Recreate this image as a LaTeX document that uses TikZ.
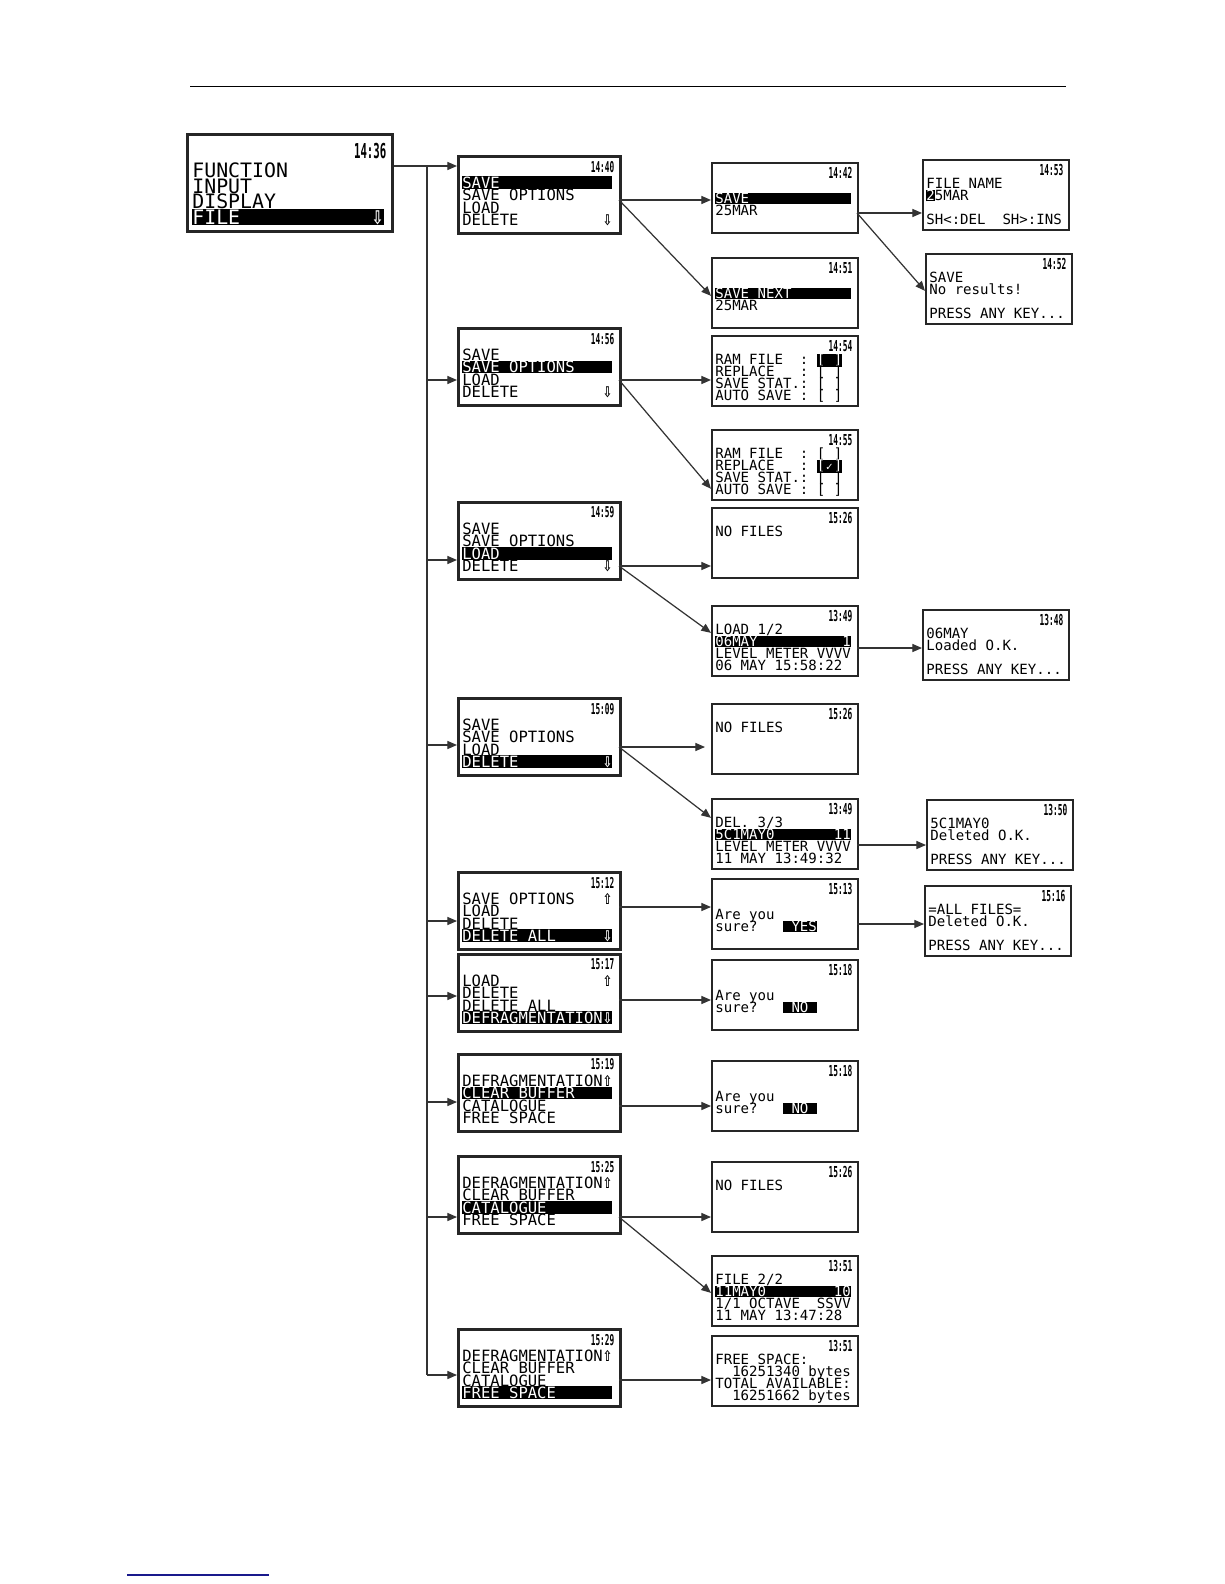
\documentclass[tikz,border=0pt]{standalone}
\usepackage{fontspec}
\usepackage{graphicx}
\usetikzlibrary{arrows.meta,calc}
\newfontfamily\lcd{DejaVu Sans Mono}
\newfontfamily\symf{DejaVu Sans}
\definecolor{footblue}{RGB}{25,25,140}
\newlength\rowwd
\newcommand\lcdstrut{\vrule width0pt height.78em depth.04em\relax}
\newcommand\lcdsize[2]{\lcd\fontsize{#1}{#2}\selectfont\setlength\rowwd{9.632em}\lineskiplimit=-10pt\relax}
\newcommand\topfnt{\lcdsize{11.3pt}{8.98pt}}
\newcommand\menufnt{\lcdsize{8.85pt}{7.03pt}}
\newcommand\dispfnt{\lcdsize{8pt}{6.69pt}}
\newcommand\lrow[1]{\hbox to\rowwd{\lcdstrut#1\hss}}
\newcommand\hrow[1]{\hbox{\setlength\fboxsep{0pt}\colorbox{black}{\hbox to\rowwd{\lcdstrut\color{white}#1\hss}}}}
\newcommand\hl[1]{{\setlength\fboxsep{0pt}\colorbox{black}{\lcdstrut\color{white}#1}}}
\newcommand\rt{\hskip0pt plus1filll\relax}
\newcommand\darr{\makebox[.602em]{\symf\bfseries\scalebox{.72}[.95]{⇩}}}
\newcommand\uarr{\makebox[.602em]{\symf\bfseries\scalebox{.72}[.95]{⇧}}}
\newcommand\chk{\makebox[.602em]{\symf\scalebox{.7}{✓}}}
% one LCD screen: style prefix, name, top left corner, clock, rows
\newcommand\screen[5]{%
  \node at (#3) (#2) [#1box] {};
  \node at (#2.north east) (#2t) [#1time] {\scalebox{.52}[1]{#4}};
  \node at (#2.north west) (#2r) [#1rows] {\vbox{#5}};
}

\begin{document}
\begin{tikzpicture}[
	x=0.02cm, y=-0.02cm,
	topbox/.style={ draw=black!85, line width=1.5pt, anchor=north west, inner sep=0pt, minimum width=4.1cm, minimum height=1.94cm },
	toptime/.style={ anchor=east, inner sep=0pt, xshift=-0.14cm, yshift=-0.36cm, font=\lcd\bfseries\fontsize{11.7pt}{11.7pt}\selectfont },
	toprows/.style={ anchor=north west, inner sep=0pt, xshift=0.12cm, yshift=-0.568cm, font=\topfnt },
	menubox/.style={ draw=black!85, line width=1.5pt, anchor=north west, inner sep=0pt, minimum width=3.24cm, minimum height=1.54cm },
	menutime/.style={ anchor=east, inner sep=0pt, xshift=-0.14cm, yshift=-0.232cm, font=\lcd\bfseries\fontsize{8.5pt}{8.5pt}\selectfont },
	menurows/.style={ anchor=north west, inner sep=0pt, xshift=0.1cm, yshift=-0.42cm, font=\menufnt },
	dispbox/.style={ draw=black!85, line width=1pt, anchor=north west, inner sep=0pt, minimum width=2.92cm, minimum height=1.4cm },
	disptime/.style={ anchor=east, inner sep=0pt, xshift=-0.12cm, yshift=-0.22cm, font=\lcd\bfseries\fontsize{8.6pt}{8.6pt}\selectfont },
	disprows/.style={ anchor=north west, inner sep=0pt, xshift=0.08cm, yshift=-0.373cm, font=\dispfnt },
	link/.style={ draw=black!80, line width=0.7pt },
	arr/.style={ draw=black!80, line width=0.7pt, -{Triangle[length=5.5pt,width=4.6pt]} }
]
\useasboundingbox (0,0) rectangle (1224,1584);

\draw[line width=0.5pt] (190,86) -- (1066,86);
\draw[line width=1pt,footblue] (127,1575) -- (269,1575);

\screen{top}{fn}{186,133}{14:36}{\lrow{FUNCTION}\lrow{INPUT}\lrow{DISPLAY}\hrow{FILE\rt\darr}}

% menu column
\screen{menu}{msave}{457,155}{14:40}{\hrow{SAVE}\lrow{SAVE OPTIONS}\lrow{LOAD}\lrow{DELETE\rt\darr}}
\screen{menu}{mopt}{457,327}{14:56}{\lrow{SAVE}\hrow{SAVE OPTIONS}\lrow{LOAD}\lrow{DELETE\rt\darr}}
\screen{menu}{mload}{457,501}{14:59}{\lrow{SAVE}\lrow{SAVE OPTIONS}\hrow{LOAD}\lrow{DELETE\rt\darr}}
\screen{menu}{mdel}{457,697}{15:09}{\lrow{SAVE}\lrow{SAVE OPTIONS}\lrow{LOAD}\hrow{DELETE\rt\darr}}
\screen{menu}{mdall}{457,871}{15:12}{\lrow{SAVE OPTIONS\rt\uarr}\lrow{LOAD}\lrow{DELETE}\hrow{DELETE ALL\rt\darr}}
\screen{menu}{mdefr}{457,953}{15:17}{\lrow{LOAD\rt\uarr}\lrow{DELETE}\lrow{DELETE ALL}\hrow{DEFRAGMENTATION\darr}}
\screen{menu}{mclr}{457,1053}{15:19}{\lrow{DEFRAGMENTATION\uarr}\hrow{CLEAR BUFFER}\lrow{CATALOGUE}\lrow{FREE SPACE}}
\screen{menu}{mcat}{457,1155}{15:25}{\lrow{DEFRAGMENTATION\uarr}\lrow{CLEAR BUFFER}\hrow{CATALOGUE}\lrow{FREE SPACE}}
\screen{menu}{mfree}{457,1328}{15:29}{\lrow{DEFRAGMENTATION\uarr}\lrow{CLEAR BUFFER}\lrow{CATALOGUE}\hrow{FREE SPACE}}

% result screens
\screen{disp}{ssave}{711,162}{14:42}{\lrow{}\hrow{SAVE}\lrow{25MAR}}
\screen{disp}{snext}{711,257}{14:51}{\lrow{}\hrow{SAVE NEXT}\lrow{25MAR}}
\screen{disp}{sram}{711,335}{14:54}{\lrow{RAM FILE~~:~\hl{[~]}}\lrow{REPLACE~~~:~[~]}\lrow{SAVE STAT.:~[~]}\lrow{AUTO SAVE~:~[~]}}
\screen{disp}{srepl}{711,429}{14:55}{\lrow{RAM FILE~~:~[~]}\lrow{REPLACE~~~:~\hl{[\chk]}}\lrow{SAVE STAT.:~[~]}\lrow{AUTO SAVE~:~[~]}}
\screen{disp}{lnone}{711,507}{15:26}{\lrow{NO FILES}}
\screen{disp}{lfile}{711,605}{13:49}{\lrow{LOAD 1/2}\hrow{06MAY\rt 1}\lrow{LEVEL METER VVVV}\lrow{06 MAY 15:58:22}}
\screen{disp}{dnone}{711,703}{15:26}{\lrow{NO FILES}}
\screen{disp}{dfile}{711,798}{13:49}{\lrow{DEL. 3/3}\hrow{5C1MAY0\rt 11}\lrow{LEVEL METER VVVV}\lrow{11 MAY 13:49:32}}
\screen{disp}{dallq}{711,878}{15:13}{\lrow{}\lrow{Are you}\lrow{sure?~~~\hl{~YES}}}
\screen{disp}{defq}{711,959}{15:18}{\lrow{}\lrow{Are you}\lrow{sure?~~~\hl{~NO~}}}
\screen{disp}{clrq}{711,1060}{15:18}{\lrow{}\lrow{Are you}\lrow{sure?~~~\hl{~NO~}}}
\screen{disp}{cnone}{711,1161}{15:26}{\lrow{NO FILES}}
\screen{disp}{cfile}{711,1255}{13:51}{\lrow{FILE 2/2}\hrow{11MAY0\rt 10}\lrow{1/1 OCTAVE~~SSVV}\lrow{11 MAY 13:47:28}}
\screen{disp}{fspace}{711,1335}{13:51}{\lrow{FREE SPACE:}\lrow{~~16251340 bytes}\lrow{TOTAL AVAILABLE:}\lrow{~~16251662 bytes}}

\screen{disp}{fname}{922,159}{14:53}{\lrow{FILE NAME}\lrow{\hl{2}5MAR}\lrow{}\lrow{SH<:DEL~~SH>:INS}}
\screen{disp}{nores}{925,253}{14:52}{\lrow{SAVE}\lrow{No results!}\lrow{}\lrow{PRESS ANY KEY...}}
\screen{disp}{lok}{922,609}{13:48}{\lrow{06MAY}\lrow{Loaded O.K.}\lrow{}\lrow{PRESS ANY KEY...}}
\screen{disp}{dok}{926,799}{13:50}{\lrow{5C1MAY0}\lrow{Deleted O.K.}\lrow{}\lrow{PRESS ANY KEY...}}
\screen{disp}{dallok}{924,885}{15:16}{\lrow{=ALL FILES=}\lrow{Deleted O.K.}\lrow{}\lrow{PRESS ANY KEY...}}

% trunk from the FILE menu
\coordinate (tk1) at (427,166);
\coordinate (tk2) at (427,380);
\coordinate (tk3) at (427,560);
\coordinate (tk4) at (427,745);
\coordinate (tk5) at (427,921);
\coordinate (tk6) at (427,996);
\coordinate (tk7) at (427,1102);
\coordinate (tk8) at (427,1217);
\coordinate (tk9) at (427,1375);
\draw[arr] (tk1 -| fn.east) -- (tk1 -| msave.west);
\draw[link] (tk1) -- (tk9);
\draw[arr] (tk2) -- (tk2 -| mopt.west);
\draw[arr] (tk3) -- (tk3 -| mload.west);
\draw[arr] (tk4) -- (tk4 -| mdel.west);
\draw[arr] (tk5) -- (tk5 -| mdall.west);
\draw[arr] (tk6) -- (tk6 -| mdefr.west);
\draw[arr] (tk7) -- (tk7 -| mclr.west);
\draw[arr] (tk8) -- (tk8 -| mcat.west);
\draw[arr] (tk9) -- (tk9 -| mfree.west);

% menu to result
\coordinate (osave) at (619,200);
\coordinate (oopt) at (619,380);
\coordinate (oload) at (619,566);
\coordinate (odel) at (619,747);
\coordinate (odall) at (619,907);
\coordinate (odefr) at (619,1000);
\coordinate (oclr) at (619,1106);
\coordinate (ocat) at (619,1217);
\coordinate (ofree) at (619,1380);
\draw[arr] (osave) -- (osave -| ssave.west);
\draw[arr] (osave) -- ($(snext.west)+(0,3)$);
\draw[arr] (oopt) -- (oopt -| sram.west);
\draw[arr] (oopt) -- ($(srepl.west)+(0,24)$);
\draw[arr] (oload) -- (oload -| lnone.west);
\draw[arr] (oload) -- ($(lfile.west)+(0,-8)$);
\draw[arr,shorten >=0.12cm] (odel) -- (odel -| dnone.west);
\draw[arr] (odel) -- ($(dfile.west)+(0,-16)$);
\draw[arr] (odall) -- (odall -| dallq.west);
\draw[arr] (odefr) -- (odefr -| defq.west);
\draw[arr] (oclr) -- (oclr -| clrq.west);
\draw[arr] (ocat) -- (ocat -| cnone.west);
\draw[arr] (ocat) -- ($(cfile.west)+(0,2)$);
\draw[arr] (ofree) -- (ofree -| fspace.west);

% result to confirmation
\coordinate (oname) at (857,213);
\coordinate (olfile) at (857,648);
\coordinate (odfile) at (857,845);
\coordinate (odallq) at (857,924);
\draw[arr] (oname) -- (oname -| fname.west);
\draw[arr] (oname) -- ($(nores.west)+(0,2)$);
\draw[arr] (olfile) -- (olfile -| lok.west);
\draw[arr] (odfile) -- (odfile -| dok.west);
\draw[arr] (odallq) -- (odallq -| dallok.west);

\end{tikzpicture}
\end{document}
